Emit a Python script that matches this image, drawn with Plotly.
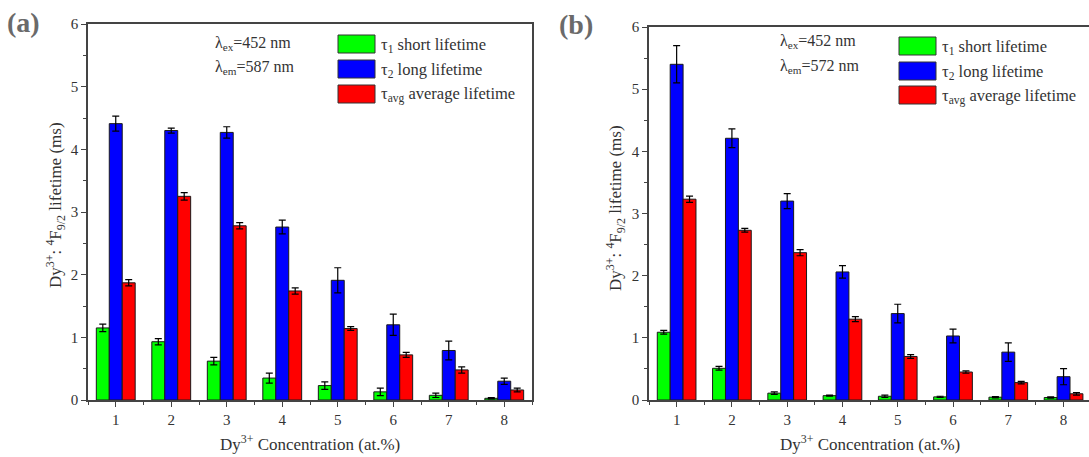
import plotly.graph_objects as go

conc = [1, 2, 3, 4, 5, 6, 7, 8]

# Panel (a): lambda_em = 587 nm
a_tau1 = [1.15, 0.93, 0.62, 0.35, 0.23, 0.13, 0.075, 0.027]
a_tau1_err = [0.06, 0.05, 0.06, 0.08, 0.06, 0.06, 0.035, 0.01]
a_tau2 = [4.41, 4.30, 4.27, 2.76, 1.91, 1.20, 0.79, 0.30]
a_tau2_err = [0.12, 0.04, 0.09, 0.11, 0.20, 0.17, 0.15, 0.05]
a_tavg = [1.87, 3.25, 2.78, 1.74, 1.14, 0.72, 0.48, 0.16]
a_tavg_err = [0.05, 0.06, 0.05, 0.05, 0.03, 0.04, 0.05, 0.03]

# Panel (b): lambda_em = 572 nm
b_tau1 = [1.09, 0.51, 0.11, 0.07, 0.06, 0.05, 0.045, 0.04]
b_tau1_err = [0.03, 0.03, 0.02, 0.01, 0.02, 0.01, 0.01, 0.01]
b_tau2 = [5.40, 4.21, 3.20, 2.06, 1.39, 1.03, 0.77, 0.375]
b_tau2_err = [0.30, 0.15, 0.12, 0.10, 0.15, 0.11, 0.15, 0.13]
b_tavg = [3.23, 2.73, 2.37, 1.30, 0.70, 0.45, 0.28, 0.10]
b_tavg_err = [0.05, 0.03, 0.05, 0.04, 0.03, 0.02, 0.02, 0.02]

colors = ["#00FF00", "#0000FF", "#FF0000"]
legend_labels = ["τ<sub>1</sub> short lifetime", "τ<sub>2</sub> long lifetime",
                 "τ<sub>avg</sub> average lifetime"]

FONT = "Liberation Serif"
W, H = 1089, 457

fig = go.Figure()

def add_panel(vals, errs, xa, ya):
    for v, e, c in zip(vals, errs, colors):
        fig.add_trace(go.Bar(
            x=conc, y=v, xaxis=xa, yaxis=ya, showlegend=False,
            marker=dict(color=c, line=dict(color="#1a1a1a", width=1)),
            error_y=dict(type="data", array=e, color="#000000", thickness=1.2, width=3.5),
        ))

add_panel([a_tau1, a_tau2, a_tavg], [a_tau1_err, a_tau2_err, a_tavg_err], "x", "y")
add_panel([b_tau1, b_tau2, b_tavg], [b_tau1_err, b_tau2_err, b_tavg_err], "x2", "y2")

def px(x):
    return x / W

def py(y):
    return (H - y) / H

axis_common = dict(
    showline=True, linecolor="#444444", linewidth=1.5,
    ticks="outside", ticklen=5, tickwidth=1.2, tickcolor="#444444",
    tickfont=dict(family=FONT, size=15, color="#333333"),
    showgrid=False, zeroline=False, automargin=False,
)

minor_x = dict(ticks="outside", ticklen=3, tickvals=[0.5 + i for i in range(9)], tickcolor="#444444")
minor_y = dict(ticks="outside", ticklen=3, dtick=0.5, tickcolor="#444444")

fig.update_layout(
    template="none",
    width=W, height=H,
    margin=dict(l=0, r=0, t=0, b=0, pad=0),
    paper_bgcolor="white", plot_bgcolor="white",
    barmode="group", bargap=0.3, bargroupgap=0,
    xaxis=dict(domain=[px(88), px(532)], range=[0.5, 8.5], tickvals=conc,
               mirror=True, anchor="y", minor=minor_x, **axis_common),
    yaxis=dict(domain=[py(400), py(24)], range=[0, 6], dtick=1, tick0=0, mirror=True, anchor="x",
               minor=minor_y, **axis_common),
    xaxis2=dict(domain=[px(649), 1.0], range=[0.5, 8.46], tickvals=conc,
                mirror=True, anchor="y2", minor=minor_x, **axis_common),
    yaxis2=dict(domain=[py(400), py(27)], range=[0, 6], dtick=1, tick0=0, mirror=False, anchor="x2",
                minor=minor_y, **axis_common),
)

annotations = []
shapes = []

def panel_decor(label, lab_x, lab_y, xcen_title, ycen_title, xt_cen, em_text, lam_x, lam_y1, lam_y2,
                box_x0, box_x1, box_ys, text_x):
    annotations.append(dict(text=f"<b>{label}</b>", x=px(lab_x), y=py(lab_y), xref="paper", yref="paper",
                            xanchor="left", yanchor="middle", showarrow=False,
                            font=dict(family=FONT, size=28, color="#6a6a6a")))
    annotations.append(dict(text="Dy<sup>3+</sup>: <sup>4</sup>F<sub>9/2</sub> lifetime (ms)",
                            x=px(xcen_title), y=py(ycen_title), xref="paper", yref="paper",
                            xanchor="center", yanchor="middle", textangle=-90, showarrow=False,
                            font=dict(family=FONT, size=17, color="#333333")))
    annotations.append(dict(text="Dy<sup>3+</sup> Concentration (at.%)",
                            x=px(xt_cen), y=py(443), xref="paper", yref="paper",
                            xanchor="center", yanchor="middle", showarrow=False,
                            font=dict(family=FONT, size=17, color="#333333")))
    annotations.append(dict(text="λ<sub>ex</sub>=452 nm", x=px(lam_x), y=py(lam_y1),
                            xref="paper", yref="paper", xanchor="left", yanchor="middle",
                            showarrow=False, font=dict(family=FONT, size=16, color="#333333")))
    annotations.append(dict(text=f"λ<sub>em</sub>={em_text} nm", x=px(lam_x), y=py(lam_y2),
                            xref="paper", yref="paper", xanchor="left", yanchor="middle",
                            showarrow=False, font=dict(family=FONT, size=16, color="#333333")))
    for (y0, y1), c, t in zip(box_ys, colors, legend_labels):
        shapes.append(dict(type="rect", xref="paper", yref="paper",
                           x0=px(box_x0), x1=px(box_x1), y0=py(y1), y1=py(y0),
                           fillcolor=c, line=dict(color="#333333", width=1)))
        annotations.append(dict(text=t, x=px(text_x), y=py((y0 + y1) / 2 + 1),
                                xref="paper", yref="paper", xanchor="left", yanchor="middle",
                                showarrow=False, font=dict(family=FONT, size=16.5, color="#333333")))

panel_decor("(a)", 5, 22, 55, 205, 310, "587", 213, 43, 68,
            338, 375, [(35, 53), (60, 78), (85, 103)], 379)
panel_decor("(b)", 557, 25, 615, 208, 870, "572", 778, 42, 66,
            899, 936, [(37, 55), (62, 80), (86, 104)], 940)

fig.update_layout(annotations=annotations, shapes=shapes)

fig.write_html("out.html")
